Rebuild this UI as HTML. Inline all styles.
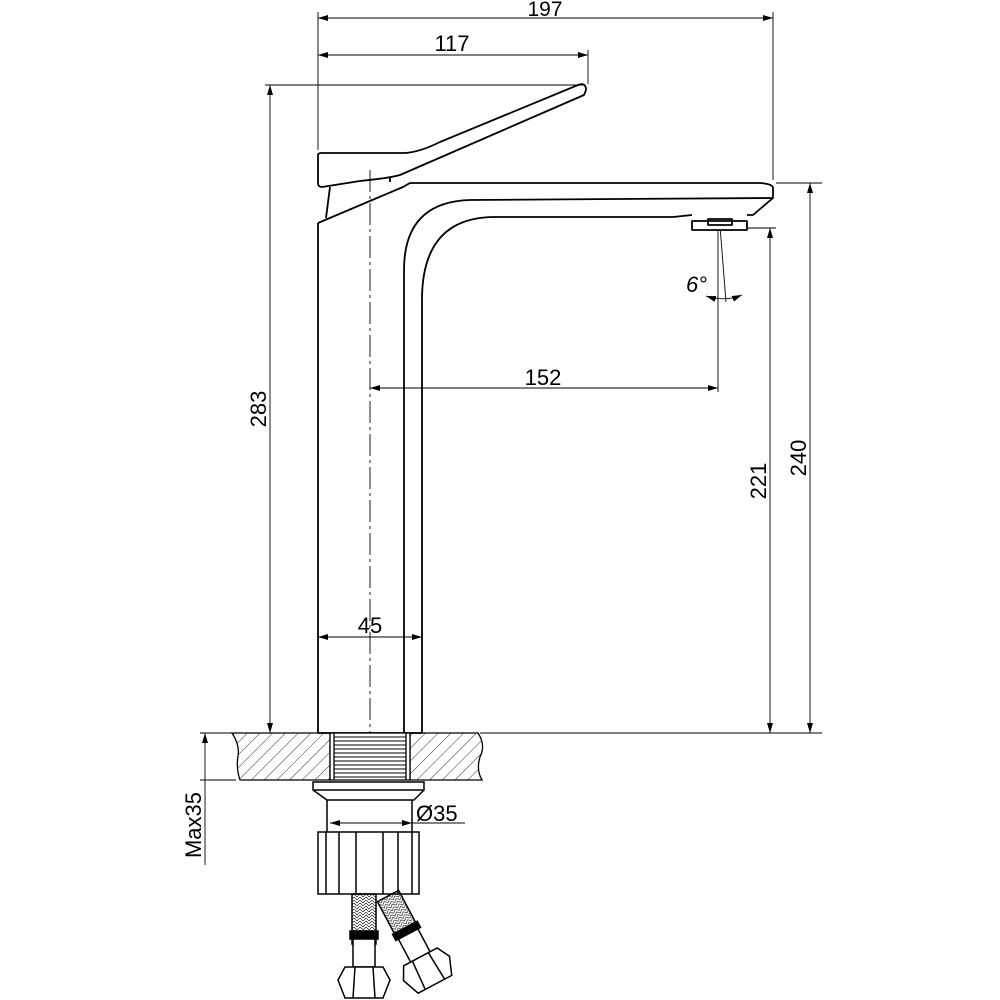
<!DOCTYPE html>
<html><head><meta charset="utf-8"><style>html,body{margin:0;padding:0;background:#fff}svg{display:block}</style></head>
<body>
<svg width="1000" height="1000" viewBox="0 0 1000 1000" xmlns="http://www.w3.org/2000/svg" font-family="Liberation Sans, sans-serif">
<defs>
<marker id="a" viewBox="0 0 10 6" refX="10" refY="3" markerWidth="10" markerHeight="6" orient="auto-start-reverse" markerUnits="userSpaceOnUse"><path d="M0,0 L10,3 L0,6 z" fill="#000"/></marker>
<pattern id="h" width="9" height="9" patternUnits="userSpaceOnUse" patternTransform="rotate(45)"><line x1="0" y1="0" x2="0" y2="9" stroke="#000" stroke-width="0.8"/></pattern>
<pattern id="br" width="6" height="6" patternUnits="userSpaceOnUse"><path d="M0,0 L3,3 L6,0 M0,3 L3,6 L6,3" stroke="#000" stroke-width="0.6" fill="none"/></pattern>
</defs>
<g stroke="#000" fill="none" stroke-width="0.9">
<line x1="318" y1="12" x2="318" y2="150"/>
<line x1="588" y1="50" x2="588" y2="84"/>
<line x1="773" y1="12" x2="773" y2="180"/>
<line x1="265" y1="85" x2="583" y2="85"/>
<line x1="776" y1="183" x2="822" y2="183"/>
<line x1="720" y1="228" x2="776" y2="228"/>
<line x1="200" y1="733" x2="232" y2="733"/>
<line x1="480" y1="733" x2="822" y2="733"/>
<line x1="200" y1="780" x2="236" y2="780"/>
<line x1="718" y1="228" x2="718" y2="392"/>
<line x1="318" y1="18" x2="773" y2="18" marker-start="url(#a)" marker-end="url(#a)"/>
<line x1="318" y1="55" x2="588" y2="55" marker-start="url(#a)" marker-end="url(#a)"/>
<line x1="270" y1="85" x2="270" y2="733" marker-start="url(#a)" marker-end="url(#a)"/>
<line x1="370" y1="388" x2="718" y2="388" marker-start="url(#a)" marker-end="url(#a)"/>
<line x1="770" y1="228" x2="770" y2="733" marker-start="url(#a)" marker-end="url(#a)"/>
<line x1="810" y1="183" x2="810" y2="733" marker-start="url(#a)" marker-end="url(#a)"/>
<line x1="318" y1="637" x2="422" y2="637" marker-start="url(#a)" marker-end="url(#a)"/>
<line x1="205" y1="733" x2="205" y2="865" marker-start="url(#a)"/>
<line x1="330" y1="823" x2="465" y2="823"/>
<line x1="330" y1="823" x2="412" y2="823" marker-start="url(#a)" marker-end="url(#a)"/>
<line x1="720" y1="226" x2="726" y2="302"/>
<path d="M706,296 Q725,302 742,295" marker-start="url(#a)" marker-end="url(#a)"/>
<line x1="370" y1="170" x2="370" y2="733" stroke-dasharray="22,4,3,4"/>
</g>
<g stroke="#000" fill="none" stroke-width="1.8" stroke-linejoin="round">
<path d="M318,155 Q318,153 322,153 L405,153 Q420,152 440,142 L578,85 Q586,82 586,90 L584,95 L400,175 Q390,178 360,181 L322,187 Q318,187 318,183 Z"/>
<line x1="390" y1="177" x2="390" y2="182"/>
<path d="M330,187 L326,218"/>
<path d="M318,223 L318,733"/>
<path d="M318,223 L403,187 L410,183 L760,183 Q773,184 773,188 L773,198 L753,215 L747,215"/>
<path d="M773,198 L470,200 Q404,202 404,270 L404,733"/>
<path d="M692,215 L673,217 L495,217 Q422,217 422,300 L422,733"/>
<line x1="318" y1="733" x2="422" y2="733"/>
<rect x="692" y="221" width="55" height="9" fill="#fff"/>
<rect x="708" y="219" width="24" height="6"/>
</g>
<g stroke="#000" stroke-width="1.3">
<path d="M232,733 L330,733 L330,780 L240,780 Q236,768 238,756 Q240,745 232,733 Z" fill="url(#h)"/>
<path d="M410,733 L478,733 Q486,745 480,757 Q476,770 482,780 L410,780 Z" fill="url(#h)"/>
<rect x="330" y="733" width="80" height="47" fill="#fff"/>
<g stroke-width="0.9"><line x1="334" y1="737" x2="406" y2="737"/><line x1="334" y1="741" x2="406" y2="741"/><line x1="334" y1="745" x2="406" y2="745"/><line x1="334" y1="749" x2="406" y2="749"/><line x1="334" y1="753" x2="406" y2="753"/><line x1="334" y1="757" x2="406" y2="757"/><line x1="334" y1="761" x2="406" y2="761"/><line x1="334" y1="765" x2="406" y2="765"/><line x1="334" y1="769" x2="406" y2="769"/><line x1="334" y1="773" x2="406" y2="773"/><line x1="334" y1="777" x2="406" y2="777"/></g>
<line x1="334" y1="733" x2="334" y2="780"/><line x1="406" y1="733" x2="406" y2="780"/>
</g>
<g stroke="#000" fill="none" stroke-width="1.5">
<path d="M313,782 L424,782 L424,790 L414,800 L327,800 L313,790 Z"/>
<line x1="314" y1="790" x2="423" y2="790"/>
<path d="M327,800 L327,832 M412,800 L412,832"/>
<rect x="318" y="832" width="101" height="62"/>
<path d="M326,832 L326,894 M339,832 L339,894 M356,832 L356,894 M383,832 L383,894 M398,832 L398,894 M412,832 L412,894"/>
<rect x="352" y="894" width="24" height="50" fill="url(#br)"/>
<rect x="350" y="931" width="28" height="8" fill="#000"/>
<rect x="353" y="939" width="22" height="28" fill="#fff"/>
<path d="M345,967 L383,967 L390,980 L383,998 L345,998 L338,980 Z" fill="#fff"/>
<line x1="355" y1="967" x2="353" y2="998"/><line x1="373" y1="967" x2="375" y2="998"/>
<g transform="translate(388,896) rotate(-28)">
<rect x="-12" y="0" width="24" height="42" fill="url(#br)"/>
<rect x="-14" y="36" width="28" height="7" fill="#000"/>
<rect x="-11" y="43" width="22" height="26" fill="#fff"/>
<path d="M-19,69 L19,69 L26,82 L19,100 L-19,100 L-26,82 Z" fill="#fff"/>
<line x1="-9" y1="69" x2="-11" y2="100"/><line x1="9" y1="69" x2="11" y2="100"/>
</g>
</g>
<g font-size="22" fill="#000">
<text x="545" y="16" text-anchor="middle" font-size="21">197</text>
<text x="452" y="51" text-anchor="middle">117</text>
<text x="543" y="385" text-anchor="middle">152</text>
<text x="370" y="633" text-anchor="middle">45</text>
<text x="416" y="821">Ø35</text>
<text x="686" y="292" font-style="italic">6°</text>
<text transform="translate(266,409) rotate(-90)" text-anchor="middle">283</text>
<text transform="translate(766,481) rotate(-90)" text-anchor="middle">221</text>
<text transform="translate(806,458) rotate(-90)" text-anchor="middle">240</text>
<text transform="translate(201,825) rotate(-90)" text-anchor="middle">Max35</text>
</g>
</svg>
</body></html>
